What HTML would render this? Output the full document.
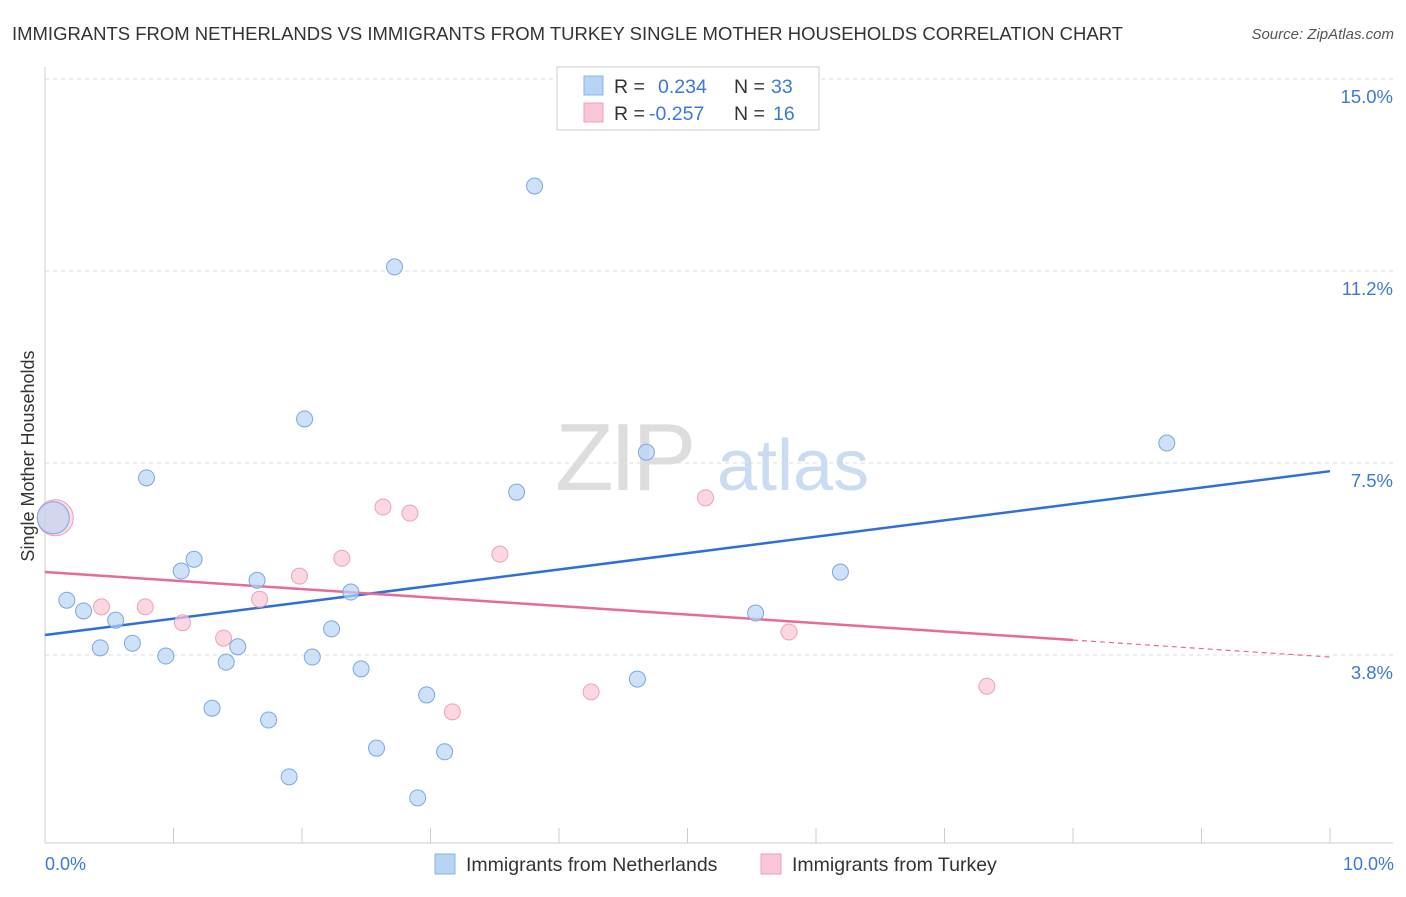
<!DOCTYPE html>
<html><head><meta charset="utf-8"><style>
body{margin:0;background:#fff;font-family:"Liberation Sans",sans-serif;}
svg text{font-family:"Liberation Sans",sans-serif;}
</style></head><body>
<svg id="chart" width="1406" height="892" xmlns="http://www.w3.org/2000/svg">
<text x="12" y="40" font-size="18.5" fill="#333" textLength="1111" lengthAdjust="spacingAndGlyphs">IMMIGRANTS FROM NETHERLANDS VS IMMIGRANTS FROM TURKEY SINGLE MOTHER HOUSEHOLDS CORRELATION CHART</text>
<text x="1394" y="39" font-size="15" fill="#555" text-anchor="end" font-style="italic">Source: ZipAtlas.com</text>
<g id="grid"></g>
<text x="555" y="490" font-size="96" fill="#ddd" font-family="Liberation Serif" letter-spacing="-4">ZIP</text>
<text x="717" y="490" font-size="72" fill="#c9dcf2">atlas</text>
<g id="axes"></g>
<g id="lines"></g>
<g id="points"></g>
<text transform="translate(34,456) rotate(-90)" text-anchor="middle" font-size="18" fill="#333">Single Mother Households</text>
<text x="45" y="870" font-size="18" fill="#3b78d8">0.0%</text>
<text x="1394" y="870" font-size="18" fill="#3b78d8" text-anchor="end">10.0%</text>
<g>
<rect x="557" y="67" width="262" height="63" fill="#fff" stroke="#ccc"/>
<rect x="584" y="76" width="19" height="19" fill="#b8d4f5" stroke="#8ab4e8"/>
<rect x="584" y="103" width="19" height="19" fill="#f9c6d6" stroke="#f0a0b8"/>
<text x="614" y="93" font-size="19.5" fill="#333">R = </text><text x="658" y="93" font-size="19.5" fill="#3b78d8">0.234</text>
<text x="734" y="93" font-size="19.5" fill="#333">N = </text><text x="771" y="93" font-size="19.5" fill="#3b78d8">33</text>
<text x="614" y="120" font-size="19.5" fill="#333">R = </text><text x="649" y="120" font-size="19.5" fill="#3b78d8">-0.257</text>
<text x="734" y="120" font-size="19.5" fill="#333">N = </text><text x="773" y="120" font-size="19.5" fill="#3b78d8">16</text>
</g>
<g>
<rect x="435" y="854" width="20" height="20" fill="#b8d4f5" stroke="#8ab4e8"/>
<text x="466" y="871" font-size="19.5" fill="#333">Immigrants from Netherlands</text>
<rect x="761" y="854" width="20" height="20" fill="#f9c6d6" stroke="#f0a0b8"/>
<text x="792" y="871" font-size="19.5" fill="#333">Immigrants from Turkey</text>
</g>
</svg>
<script>
const yTicks=[15.0,11.25,7.5,3.75];
const yTickLabels=["15.0%","11.2%","7.5%","3.8%"];
const blueX=[0.17,0.30,0.43,0.55,0.68,0.79,0.94,1.06,1.16,1.30,1.41,1.50,1.65,1.74,1.90,2.02,2.08,2.23,2.38,2.46,2.58,2.72,2.90,2.97,3.11,3.67,3.81,4.61,4.68,5.53,6.19,8.73];
const blueY=[4.82,4.61,3.89,4.43,3.98,7.21,3.73,5.39,5.62,2.71,3.61,3.91,5.21,2.48,1.37,8.36,3.71,4.26,4.98,3.48,1.93,11.33,0.96,2.97,1.86,6.93,12.91,3.28,7.71,4.57,5.37,7.89];
const pinkX=[0.44,0.78,1.07,1.39,1.67,1.98,2.31,2.63,2.84,3.17,3.54,4.25,5.14,5.79,7.33];
const pinkY=[4.69,4.69,4.38,4.08,4.84,5.29,5.64,6.64,6.52,2.64,5.72,3.03,6.82,4.20,3.14];
const bigX=0.08, bigY=6.43;
const blueLine=[4.14,7.34];
const pinkLine=[5.37,3.71];
const pinkSolidEnd=8;
const X=v=>45+v*128.5, Y=v=>79+(15-v)*51.2;
const NS="http://www.w3.org/2000/svg";
function mk(p,t,a){const e=document.createElementNS(NS,t);for(const k in a)e.setAttribute(k,a[k]);p.appendChild(e);return e;}
const grid=document.getElementById('grid'),axes=document.getElementById('axes'),lines=document.getElementById('lines'),pts=document.getElementById('points');
yTicks.forEach((t,i)=>{
 const l=mk(grid,'line',{x1:45,x2:1393,y1:Y(t),y2:Y(t),stroke:'#ddd','stroke-dasharray':'4,4'});
 
 
 const tx=mk(grid,'text',{x:1393,y:Y(t)+24,'font-size':18.5,fill:'#3b78d8','text-anchor':'end'});
 tx.textContent=yTickLabels[i];
 
 
});
mk(axes,'line',{x1:45,x2:45,y1:67,y2:843,stroke:'#ccc'});
mk(axes,'line',{x1:45,x2:1393,y1:843,y2:843,stroke:'#ccc'});
for(let i=1;i<=10;i++){const t=mk(axes,'line',{x1:X(i),x2:X(i),y1:828,y2:843,stroke:'#ccc'});
 
 }
const bl=mk(lines,'line',{x1:X(0),y1:Y(blueLine[0]),x2:X(10),y2:Y(blueLine[1]),stroke:'#2f6fd6','stroke-width':2.5});


const pm=pinkLine[0]+(pinkLine[1]-pinkLine[0])*pinkSolidEnd/10;
const pl=mk(lines,'line',{x1:X(0),y1:Y(pinkLine[0]),x2:X(pinkSolidEnd),y2:Y(pm),stroke:'#e8699a','stroke-width':2.5});


const pd=mk(lines,'line',{x1:X(pinkSolidEnd),y1:Y(pm),x2:X(10),y2:Y(pinkLine[1]),stroke:'#e8699a','stroke-width':1.2,'stroke-dasharray':'5,4'});


pinkX.forEach((x,i)=>{const c=mk(pts,'circle',{cx:X(x),cy:Y(pinkY[i]),r:8,fill:'#f9c6d6','fill-opacity':0.7,stroke:'#f0a0b8','stroke-width':1});
 
 });
blueX.forEach((x,i)=>{const c=mk(pts,'circle',{cx:X(x),cy:Y(blueY[i]),r:8,fill:'#b8d4f5','fill-opacity':0.7,stroke:'#7aa8e0','stroke-width':1});
 
 });
const b1=mk(pts,'circle',{cx:X(bigX),cy:Y(bigY),r:18,fill:'#f9c6d6','fill-opacity':0.6,stroke:'#f0a0b8'});


const b2=mk(pts,'circle',{cx:X(bigX)-2,cy:Y(bigY),r:16,fill:'#b8d4f5','fill-opacity':0.6,stroke:'#7aa8e0'});


</script>
</body></html>
